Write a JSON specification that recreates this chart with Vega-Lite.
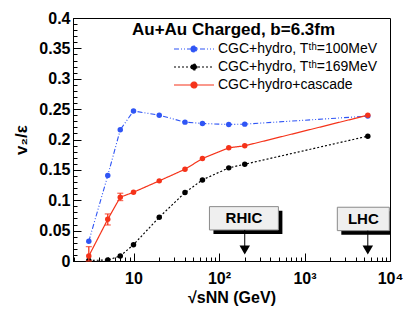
{
  "$schema": "https://vega.github.io/schema/vega-lite/v6.json",
  "width": 317,
  "height": 243,
  "autosize": "none",
  "padding": {"left": 73, "top": 18, "right": 19, "bottom": 50},
  "background": "white",
  "datasets": {
    "curves": [
      {"E": 3, "v": 0.0324, "series": "CGC+hydro, Tᵗʰ=100MeV"},
      {"E": 5, "v": 0.1407, "series": "CGC+hydro, Tᵗʰ=100MeV"},
      {"E": 7, "v": 0.216, "series": "CGC+hydro, Tᵗʰ=100MeV"},
      {"E": 10, "v": 0.247, "series": "CGC+hydro, Tᵗʰ=100MeV"},
      {"E": 20, "v": 0.240, "series": "CGC+hydro, Tᵗʰ=100MeV"},
      {"E": 40, "v": 0.2286, "series": "CGC+hydro, Tᵗʰ=100MeV"},
      {"E": 64, "v": 0.2264, "series": "CGC+hydro, Tᵗʰ=100MeV"},
      {"E": 130, "v": 0.2247, "series": "CGC+hydro, Tᵗʰ=100MeV"},
      {"E": 200, "v": 0.2253, "series": "CGC+hydro, Tᵗʰ=100MeV"},
      {"E": 5500, "v": 0.2385, "series": "CGC+hydro, Tᵗʰ=100MeV"},
      {"E": 3, "v": 0.001, "series": "CGC+hydro, Tᵗʰ=169MeV"},
      {"E": 5, "v": 0.0016, "series": "CGC+hydro, Tᵗʰ=169MeV"},
      {"E": 7, "v": 0.0082, "series": "CGC+hydro, Tᵗʰ=169MeV"},
      {"E": 10, "v": 0.0269, "series": "CGC+hydro, Tᵗʰ=169MeV"},
      {"E": 20, "v": 0.072, "series": "CGC+hydro, Tᵗʰ=169MeV"},
      {"E": 40, "v": 0.1126, "series": "CGC+hydro, Tᵗʰ=169MeV"},
      {"E": 64, "v": 0.1335, "series": "CGC+hydro, Tᵗʰ=169MeV"},
      {"E": 130, "v": 0.1533, "series": "CGC+hydro, Tᵗʰ=169MeV"},
      {"E": 200, "v": 0.1593, "series": "CGC+hydro, Tᵗʰ=169MeV"},
      {"E": 5500, "v": 0.2055, "series": "CGC+hydro, Tᵗʰ=169MeV"},
      {"E": 3, "v": 0.0082, "lo": 0.0, "hi": 0.0236, "series": "CGC+hydro+cascade"},
      {"E": 5, "v": 0.0687, "lo": 0.0593, "hi": 0.0775, "series": "CGC+hydro+cascade"},
      {"E": 7, "v": 0.105, "lo": 0.0995, "hi": 0.1115, "series": "CGC+hydro+cascade"},
      {"E": 10, "v": 0.1132, "series": "CGC+hydro+cascade"},
      {"E": 20, "v": 0.1319, "series": "CGC+hydro+cascade"},
      {"E": 40, "v": 0.151, "series": "CGC+hydro+cascade"},
      {"E": 64, "v": 0.1687, "series": "CGC+hydro+cascade"},
      {"E": 130, "v": 0.1863, "series": "CGC+hydro+cascade"},
      {"E": 200, "v": 0.1896, "series": "CGC+hydro+cascade"},
      {"E": 5500, "v": 0.240, "series": "CGC+hydro+cascade"}
    ],
    "boxes": [
      {"lab": "RHIC", "xa": 200, "x1": 77.3, "x2": 495, "y1": 0.0511, "y2": 0.0895, "tip": 0.022, "tri": 0.018},
      {"lab": "LHC", "xa": 5500, "x1": 2420, "x2": 9820, "y1": 0.050, "y2": 0.0885, "tip": 0.022, "tri": 0.018}
    ]
  },
  "resolve": {"axis": {"x": "independent", "y": "independent"}},
  "layer": [
    {
      "data": {"name": "boxes"},
      "mark": {"type": "rect", "fill": "black", "xOffset": 4, "x2Offset": 4, "yOffset": 4, "y2Offset": 4, "clip": true},
      "encoding": {
        "x": {"field": "x1", "type": "quantitative", "scale": {"type": "log", "domain": [1.96, 10000], "nice": false}, "axis": null},
        "x2": {"field": "x2"},
        "y": {"field": "y1", "type": "quantitative", "scale": {"domain": [0, 0.4], "nice": false}, "axis": null},
        "y2": {"field": "y2"}
      }
    },
    {
      "data": {"name": "boxes"},
      "mark": {"type": "rect", "fill": "#efefef", "stroke": "#8a8a8a", "strokeWidth": 1, "clip": true},
      "encoding": {
        "x": {"field": "x1", "type": "quantitative", "axis": null},
        "x2": {"field": "x2"},
        "y": {"field": "y1", "type": "quantitative", "axis": null},
        "y2": {"field": "y2"}
      }
    },
    {
      "data": {"name": "boxes"},
      "transform": [{"calculate": "sqrt(datum.x1*datum.x2)", "as": "xc"}, {"calculate": "(datum.y1+datum.y2)/2", "as": "yc"}],
      "mark": {"type": "text", "font": "Liberation Sans", "fontWeight": "bold", "fontSize": 15, "color": "black", "baseline": "middle", "align": "center"},
      "encoding": {
        "x": {"field": "xc", "type": "quantitative", "axis": null},
        "y": {"field": "yc", "type": "quantitative", "axis": null},
        "text": {"field": "lab"}
      }
    },
    {
      "data": {"name": "boxes"},
      "mark": {"type": "rule", "color": "black", "strokeWidth": 1},
      "encoding": {
        "x": {"field": "xa", "type": "quantitative", "axis": null},
        "y": {"field": "y1", "type": "quantitative", "axis": null},
        "y2": {"field": "tip"}
      }
    },
    {
      "data": {"name": "boxes"},
      "mark": {"type": "point", "shape": "triangle-down", "filled": true, "color": "black", "size": 110, "opacity": 1},
      "encoding": {
        "x": {"field": "xa", "type": "quantitative", "axis": null},
        "y": {"field": "tri", "type": "quantitative", "axis": null}
      }
    },
    {
      "data": {"name": "curves"},
      "mark": {"type": "line", "clip": true},
      "encoding": {
        "x": {"field": "E", "type": "quantitative", "axis": {"orient": "bottom", "values": [10, 100, 1000, 10000], "labelExpr": "datum.value == 10 ? '10' : datum.value == 100 ? '10²' : datum.value == 1000 ? '10³' : '10⁴'", "tickSize": -8, "labelPadding": 17, "title": "√sNN (GeV)", "titleY": 41, "titleBaseline": "alphabetic", "labelFlush": false, "labelOverlap": false}},
        "y": {"field": "v", "type": "quantitative", "axis": {"orient": "left", "values": [0, 0.05, 0.1, 0.15, 0.2, 0.25, 0.3, 0.35, 0.4], "labelExpr": "datum.value == 0 ? '0' : format(datum.value, '.2~f')", "tickSize": -8, "labelPadding": 11, "title": "v₂/ε", "titlePadding": 8, "titleFontSize": 17, "labelFlush": false, "labelOverlap": false}},
        "color": {"field": "series", "type": "nominal", "scale": {"domain": ["CGC+hydro, Tᵗʰ=100MeV", "CGC+hydro, Tᵗʰ=169MeV", "CGC+hydro+cascade"], "range": ["#2f55f5", "#000000", "#f5331a"]},
          "legend": {"orient": "none", "legendX": 59, "legendY": 4, "title": "Au+Au Charged, b=6.3fm", "titleFont": "Liberation Sans", "titleFontSize": 17, "titleFontWeight": "bold", "titleColor": "black", "titleLimit": 400, "titleAnchor": "start", "titleBaseline": "top", "titlePadding": 3, "padding": 0, "symbolType": "M-4,0H4M-0.6,0A0.6,0.6,0,1,0,0.6,0A0.6,0.6,0,1,0,-0.6,0", "symbolSize": 100, "symbolOffset": 55, "symbolStrokeWidth": 1.4, "labelOffset": 17, "labelFontSize": 14, "labelFont": "Liberation Sans", "labelColor": "black", "labelLimit": 400, "rowPadding": 4,
            "encode": {"symbols": {"update": {"fill": {"scale": "color", "field": "value"}}}}}},
        "strokeDash": {"field": "series", "type": "nominal", "scale": {"domain": ["CGC+hydro, Tᵗʰ=100MeV", "CGC+hydro, Tᵗʰ=169MeV", "CGC+hydro+cascade"], "range": [[5, 2, 1, 2, 1, 2], [2, 2], [1, 0]]}},
        "strokeWidth": {"field": "series", "type": "nominal", "scale": {"domain": ["CGC+hydro, Tᵗʰ=100MeV", "CGC+hydro, Tᵗʰ=169MeV", "CGC+hydro+cascade"], "range": [1.1, 1.2, 1.6]}, "legend": null}
      }
    },
    {
      "data": {"name": "curves"},
      "mark": {"type": "point", "filled": true, "size": 30, "opacity": 1, "clip": true},
      "encoding": {
        "x": {"field": "E", "type": "quantitative", "axis": {"orient": "bottom", "values": [2, 3, 4, 5, 6, 7, 8, 9, 20, 30, 40, 50, 60, 70, 80, 90, 200, 300, 400, 500, 600, 700, 800, 900, 2000, 3000, 4000, 5000, 6000, 7000, 8000, 9000], "tickSize": -4, "labels": false, "domain": false, "title": null}},
        "y": {"field": "v", "type": "quantitative", "axis": {"orient": "left", "values": [0.01, 0.02, 0.03, 0.04, 0.06, 0.07, 0.08, 0.09, 0.11, 0.12, 0.13, 0.14, 0.16, 0.17, 0.18, 0.19, 0.21, 0.22, 0.23, 0.24, 0.26, 0.27, 0.28, 0.29, 0.31, 0.32, 0.33, 0.34, 0.36, 0.37, 0.38, 0.39], "tickSize": -4, "labels": false, "domain": false, "title": null}},
        "color": {"field": "series", "type": "nominal"}
      }
    },
    {
      "data": {"name": "curves"},
      "transform": [{"filter": "isValid(datum.lo)"}],
      "mark": {"type": "errorbar", "color": "#f5331a", "ticks": {"size": 6}, "thickness": 1.3},
      "encoding": {
        "x": {"field": "E", "type": "quantitative", "axis": null},
        "y": {"field": "lo", "type": "quantitative", "axis": null},
        "y2": {"field": "hi"}
      }
    }
  ],
  "config": {
    "font": "Liberation Sans",
    "view": {"stroke": "black", "strokeWidth": 1},
    "axis": {"domainColor": "black", "tickColor": "black", "labelColor": "black", "titleColor": "black", "labelFont": "Liberation Sans", "titleFont": "Liberation Sans", "labelFontWeight": "bold", "labelFontSize": 16, "titleFontSize": 16, "titleFontWeight": "bold", "grid": false, "domainWidth": 1, "tickWidth": 1}
  }
}
